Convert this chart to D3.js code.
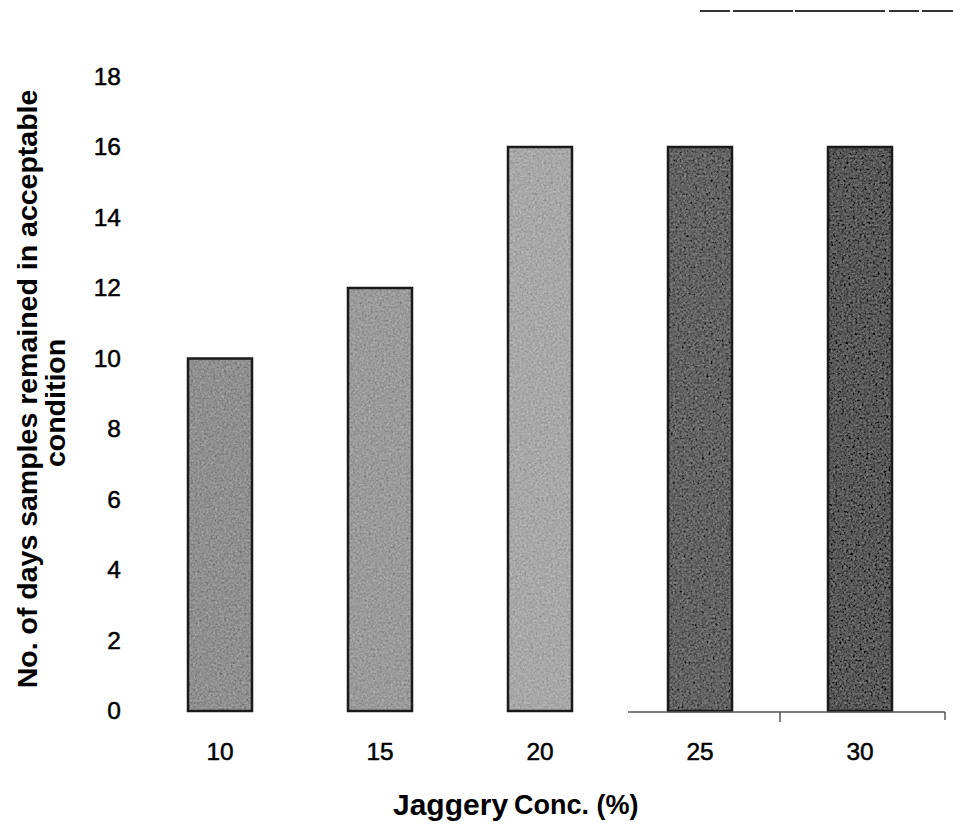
<!DOCTYPE html>
<html>
<head>
<meta charset="utf-8">
<script src="https://cdn.jsdelivr.net/npm/d3@7"></script>
<style>
  html, body { margin: 0; padding: 0; background: #fff; }
  svg { display: block; }
  text { font-family: Arial, "Liberation Sans", Helvetica, sans-serif; fill: #000; }
</style>
</head>
<body>
<svg id="chart" width="953" height="829"></svg>
<script>
// Jaggery concentration (%) and the shelf life it gave
const categories = ["10", "15", "20", "25", "30"];
const daysAcceptable = [10, 12, 16, 16, 16];
const barShades = ["#909090", "#9b9b9b", "#a8a8a8", "#636363", "#585858"];
const yTicks = [0, 2, 4, 6, 8, 10, 12, 14, 16, 18];

const svg = d3.select("#chart");

const x = d3.scaleBand()
  .domain(categories)
  .range([140, 940])
  .paddingInner(0.6)
  .paddingOuter(0.3);

const y = d3.scaleLinear()
  .domain([0, 18])
  .range([711, 76.5]);

// Grainy print texture for the bar fills
const defs = svg.append("defs");
const grain = defs.append("filter")
  .attr("id", "grain")
  .attr("x", 0).attr("y", 0).attr("width", 1).attr("height", 1);
grain.append("feTurbulence")
  .attr("type", "fractalNoise")
  .attr("baseFrequency", 0.45)
  .attr("numOctaves", 2)
  .attr("seed", 7)
  .attr("result", "noise");
grain.append("feColorMatrix")
  .attr("in", "noise")
  .attr("type", "matrix")
  .attr("values", "0.33 0.33 0.33 0 0  0.33 0.33 0.33 0 0  0.33 0.33 0.33 0 0  0 0 0 0 1")
  .attr("result", "grayNoise");
grain.append("feComposite")
  .attr("in", "SourceGraphic")
  .attr("in2", "grayNoise")
  .attr("operator", "arithmetic")
  .attr("k1", 0).attr("k2", 1).attr("k3", 0.6).attr("k4", -0.3)
  .attr("result", "textured");
grain.append("feComposite")
  .attr("in", "textured")
  .attr("in2", "SourceGraphic")
  .attr("operator", "in");

// Bars
const bars = svg.append("g").attr("class", "bars");
bars.selectAll("rect.fill")
  .data(categories)
  .join("rect")
  .attr("class", "fill")
  .attr("x", d => x(d))
  .attr("y", (d, i) => y(daysAcceptable[i]))
  .attr("width", x.bandwidth())
  .attr("height", (d, i) => y(0) - y(daysAcceptable[i]))
  .attr("fill", (d, i) => barShades[i])
  .attr("filter", "url(#grain)");
bars.selectAll("rect.edge")
  .data(categories)
  .join("rect")
  .attr("class", "edge")
  .attr("x", d => x(d))
  .attr("y", (d, i) => y(daysAcceptable[i]))
  .attr("width", x.bandwidth())
  .attr("height", (d, i) => y(0) - y(daysAcceptable[i]))
  .attr("fill", "none")
  .attr("stroke", "#1a1a1a")
  .attr("stroke-width", 2.5);

// Y axis: labels only, no axis line or tick marks
const yAxis = d3.axisLeft(y).tickValues(yTicks).tickSize(0).tickPadding(0);
const yg = svg.append("g").attr("transform", "translate(121,0)").call(yAxis);
yg.select(".domain").remove();
yg.selectAll("text")
  .attr("font-size", 24.5)
  .attr("fill", "#000")
  .attr("stroke", "#000")
  .attr("stroke-width", 0.5)
  .attr("font-family", "Arial, 'Liberation Sans', sans-serif");

// X axis: category labels under each bar
const xAxis = d3.axisBottom(x).tickSize(0).tickPadding(0);
const xg = svg.append("g").attr("transform", "translate(0,742)").call(xAxis);
xg.select(".domain").remove();
xg.selectAll("text")
  .attr("font-size", 24.5)
  .attr("dy", "0.75em")
  .attr("fill", "#000")
  .attr("stroke", "#000")
  .attr("stroke-width", 0.5)
  .attr("font-family", "Arial, 'Liberation Sans', sans-serif");

// Baseline segment on the right part of the x axis, with its end ticks
const base = svg.append("g").attr("stroke", "#555").attr("fill", "none");
const bEdge = x("30") - x.step() * x.paddingInner() / 2;
base.append("line")
  .attr("x1", 628).attr("x2", 945)
  .attr("y1", y(0) + 1).attr("y2", y(0) + 1)
  .attr("stroke-width", 1.5);
base.append("line")
  .attr("x1", bEdge).attr("x2", bEdge)
  .attr("y1", y(0) + 1).attr("y2", y(0) + 11)
  .attr("stroke-width", 1.5);
base.append("line")
  .attr("x1", 945).attr("x2", 945)
  .attr("y1", y(0) + 1).attr("y2", y(0) + 9)
  .attr("stroke-width", 1.5);

// Y axis title (two lines, rotated)
const yTitle = svg.append("text")
  .attr("transform", "translate(0,389) rotate(-90)")
  .attr("text-anchor", "middle")
  .attr("font-weight", "bold")
  .attr("font-size", 28.5);
yTitle.append("tspan").attr("x", 0).attr("y", 37).text("No. of days samples remained in acceptable");
yTitle.append("tspan").attr("x", -14).attr("y", 65).text("condition");

// X axis title
const xTitle = svg.append("text")
  .attr("x", 393)
  .attr("y", 815)
  .attr("font-weight", "bold");
xTitle.append("tspan").attr("font-size", 30).text("Jaggery");
xTitle.append("tspan").attr("font-size", 27).attr("dx", 6).attr("dy", -1).text("Conc. (%)");

// Thin rule fragment across the top right
svg.append("line")
  .attr("x1", 700).attr("x2", 953)
  .attr("y1", 11).attr("y2", 11)
  .attr("stroke", "#333")
  .attr("stroke-width", 2)
  .attr("stroke-dasharray", "30 3 60 2 90 4");
</script>
</body>
</html>
